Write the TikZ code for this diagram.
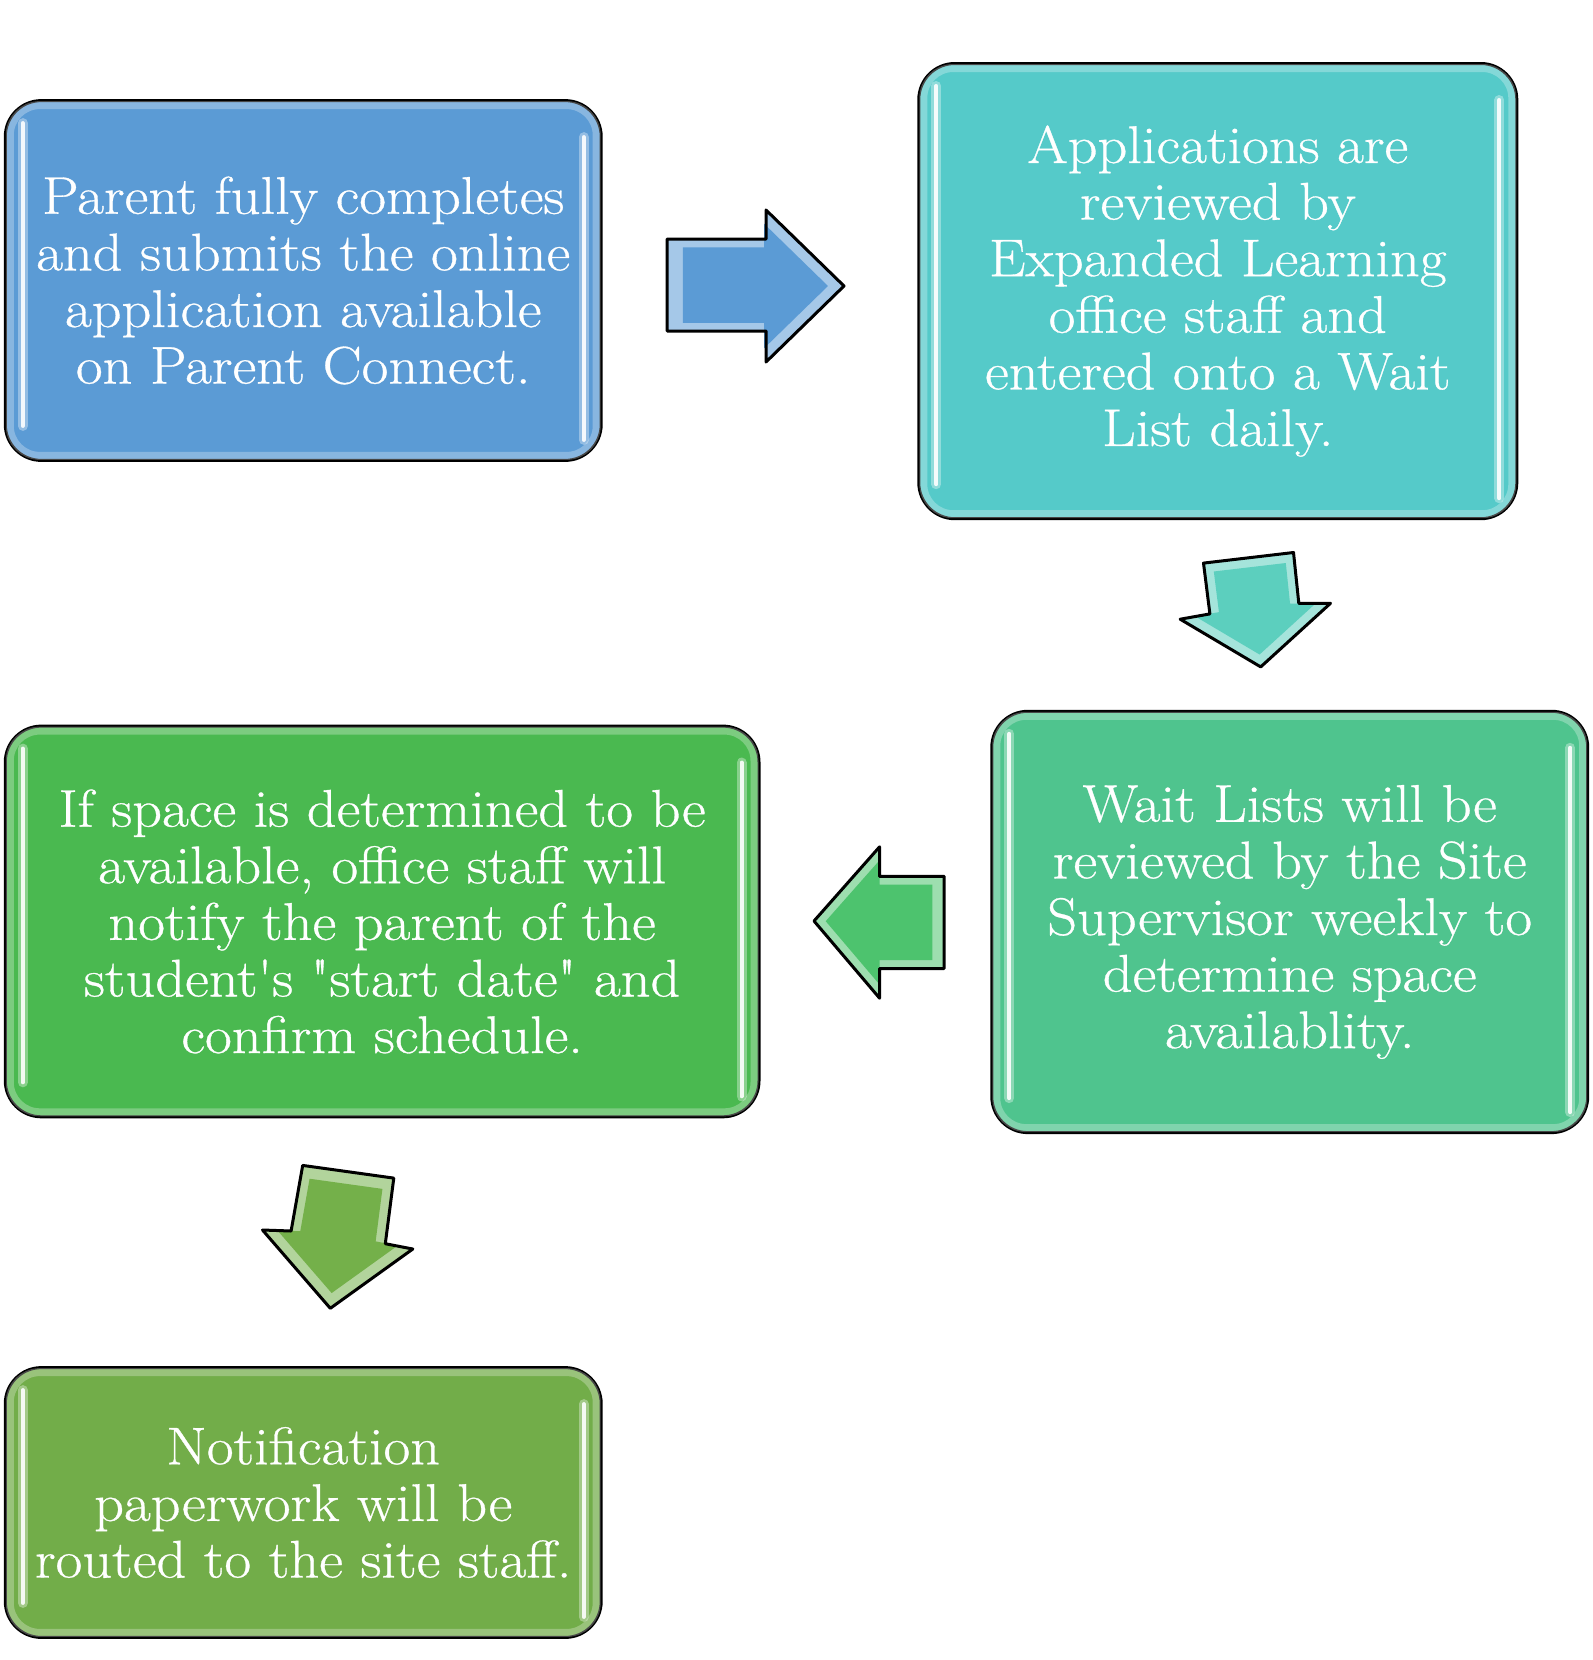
\documentclass[tikz,border=0pt]{standalone}
\usepackage{fontspec}
\setmainfont{Latin Modern Roman}[FakeStretch=1.1, FakeBold=0.6, Ligatures=TeXOff]
\usetikzlibrary{calc}
\definecolor{cBlue}{RGB}{91,155,213}
\definecolor{cTeal}{RGB}{85,202,201}
\definecolor{cSea}{RGB}{79,196,142}
\definecolor{cGreen}{RGB}{74,185,80}
\definecolor{cOlive}{RGB}{114,173,73}
\definecolor{aTeal}{RGB}{92,207,190}
\definecolor{aGreen}{RGB}{77,195,110}
\definecolor{aOlive}{RGB}{116,176,74}
\tikzset{
  gbox/.style={draw=black, line width=3pt, rounded corners=36pt, inner sep=0pt,
    text=white, align=center, font=\fontsize{53}{56.6}\selectfont},
  glow/.style={white, opacity=.28, line width=8pt, rounded corners=30pt},
  hlwide/.style={line width=10pt, white, opacity=.35, line cap=round},
  hlthin/.style={line width=4pt, white, opacity=.9, line cap=round},
  blockarrow/.style={draw=black, line width=3pt, line join=round},
}
\newcommand\glossdeco[1]{%
  \draw[glow] ($(#1.north west)+(6,6)$) rectangle ($(#1.south east)+(-6,-6)$);
  \draw[hlwide] ($(#1.north west)+(19,24)$) -- ($(#1.south west)+(19,-36)$);
  \draw[hlthin] ($(#1.north west)+(19,24)$) -- ($(#1.south west)+(19,-36)$);
  \draw[hlwide] ($(#1.north east)+(-19,38)$) -- ($(#1.south east)+(-19,-22)$);
  \draw[hlthin] ($(#1.north east)+(-19,38)$) -- ($(#1.south east)+(-19,-22)$);
}
\newcommand\rightarrowpath{(667,239) -- (766,239) -- (766,210) -- (844,286) -- (766,362) -- (766,331) -- (667,331) -- cycle}
\newcommand\downarrowApath{(1203.5,563.1) -- (1293.5,552.5) -- (1298.8,603.3) -- (1330.5,603.3) -- (1260.7,666.9) -- (1180.2,619.2) -- (1209.9,613.9) -- cycle}
\newcommand\leftarrowpath{(814,921) -- (879.6,846.8) -- (879.6,876.4) -- (944.2,876.4) -- (944.2,968.5) -- (879.6,968.5) -- (879.6,998.2) -- cycle}
\newcommand\downarrowBpath{(302.7,1165.4) -- (393.8,1178.1) -- (385.3,1243.7) -- (412.8,1249.0) -- (330.3,1308.3) -- (262.5,1230.0) -- (291.1,1231.0) -- cycle}
\begin{document}
\begin{tikzpicture}[x=1pt,y=-1pt]
\useasboundingbox[fill=white] (0,0) rectangle (1593,1660);

% boxes
\node[gbox, fill=cBlue, minimum width=595.9pt, minimum height=359.8pt] (b1) at (303.25,280.5)
  {\raisebox{3pt}{}Parent fully completes\\and submits the online\\application available\\on Parent Connect.};
\glossdeco{b1}
\node[gbox, fill=cTeal, minimum width=598pt, minimum height=455.2pt] (b2) at (1217.8,291.1)
  {Applications are\\reviewed by\\Expanded Learning\\office staff and\\entered onto a Wait\\List daily.};
\glossdeco{b2}
\node[gbox, fill=cSea, minimum width=595.9pt, minimum height=421.3pt] (b3) at (1289.75,921.95)
  {Wait Lists will be\\reviewed by the Site\\Supervisor weekly to\\determine space\\availablity.};
\glossdeco{b3}
\node[gbox, fill=cGreen, minimum width=753.7pt, minimum height=390.7pt] (b4) at (382.15,921.45)
  {If space is determined to be\\available, office staff will\\notify the parent of the\\student's "start date" and\\confirm schedule.};
\glossdeco{b4}
\node[gbox, fill=cOlive, minimum width=595.9pt, minimum height=269.8pt] (b5) at (303.25,1502.5)
  {Notification\\paperwork will be\\routed to the site staff.};
\glossdeco{b5}

% block arrows
\fill[cBlue!55!white] \rightarrowpath;
\fill[cBlue, scale around={0.82:(755,286)}] \rightarrowpath;
\draw[blockarrow] \rightarrowpath;

\fill[aTeal!55!white] \downarrowApath;
\fill[aTeal, scale around={0.8:(1255,605)}] \downarrowApath;
\draw[blockarrow] \downarrowApath;

\fill[aGreen!55!white] \leftarrowpath;
\fill[aGreen, scale around={0.82:(879,922)}] \leftarrowpath;
\draw[blockarrow] \leftarrowpath;

\fill[aOlive!55!white] \downarrowBpath;
\fill[aOlive, scale around={0.8:(337,1232)}] \downarrowBpath;
\draw[blockarrow] \downarrowBpath;
\end{tikzpicture}
\end{document}
